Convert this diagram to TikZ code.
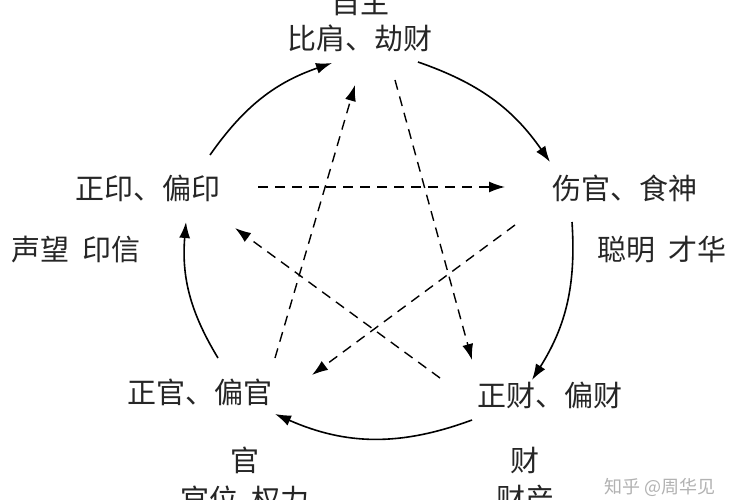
\documentclass[tikz,border=0pt]{standalone}
\usepackage{fontspec}
\setmainfont{Noto Sans CJK SC}
\usetikzlibrary{arrows.meta}
\begin{document}
\begin{tikzpicture}[x=1pt,y=-1pt,
  lbl/.style={font=\fontsize{29}{31}\selectfont, text=black!85, inner sep=0pt},
  solidarr/.style={line width=1.6pt, -{Latex[length=16pt,width=11pt]}},
  dasharr/.style={line width=1.4pt, dash pattern=on 10pt off 7pt, -{Latex[length=16pt,width=11pt]}}]
\useasboundingbox[fill=white] (0,0) rectangle (750,500);
\node[lbl] (top0) at (360,2) {自主};
\node[lbl] (top) at (360,38) {比肩、劫财};
\node[lbl] (right) at (625,188) {伤官、食神};
\node[lbl] (left) at (148,188) {正印、偏印};
\node[lbl] (leftsub) at (76,250) {声望\ \ 印信};
\node[lbl] (rightsub) at (662,250) {聪明\ \ 才华};
\node[lbl] (bl) at (200,392) {正官、偏官};
\node[lbl] (br) at (550,395) {正财、偏财};
\node[lbl] (bl1) at (245,460) {官};
\node[lbl] (bl2) at (245,499) {官位\ \ 权力};
\node[lbl] (br1) at (525,460) {财};
\node[lbl] (br2) at (525,499) {财产};
\node[font=\fontsize{18}{20}\selectfont, text=black!30] (wm) at (660,487) {知乎 @周华见};
% solid cycle endpoints
\coordinate (a1) at (418,62); \coordinate (a2) at (550,162);
\coordinate (b1) at (572,222); \coordinate (b2) at (532,380);
\coordinate (c1) at (472,420); \coordinate (c2) at (275,414);
\coordinate (d1) at (218,358); \coordinate (d2) at (186,222);
\coordinate (e1) at (210,155); \coordinate (e2) at (332,63);
\draw[solidarr] (a1) to[bend left=18] (a2);
\draw[solidarr] (b1) to[bend left=18] (b2);
\draw[solidarr] (c1) to[bend left=22] (c2);
\draw[solidarr] (d1) to[bend left=18] (d2);
\draw[solidarr] (e1) to[bend left=18] (e2);
% dashed star endpoints
\coordinate (p1) at (258,187); \coordinate (p2) at (505,187);
\coordinate (q1) at (395,80); \coordinate (q2) at (472,360);
\coordinate (r1) at (515,225); \coordinate (r2) at (312,375);
\coordinate (s1) at (440,378); \coordinate (s2) at (235,228);
\coordinate (t1) at (275,358); \coordinate (t2) at (355,85);
\draw[dasharr] (p1) -- (p2);
\draw[dasharr] (q1) -- (q2);
\draw[dasharr] (r1) -- (r2);
\draw[dasharr] (s1) -- (s2);
\draw[dasharr] (t1) -- (t2);
\end{tikzpicture}
\end{document}
